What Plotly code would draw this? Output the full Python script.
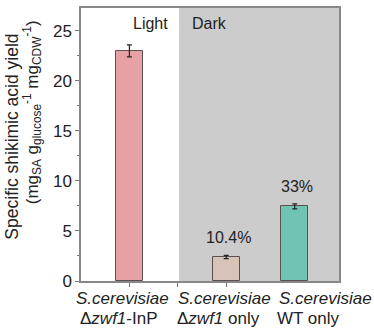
import plotly.graph_objects as go

# data
strains = ['S.cerevisiae Δzwf1-InP', 'S.cerevisiae Δzwf1 only', 'S.cerevisiae WT only']
yields = [23.0, 2.4, 7.45]
errors = [0.6, 0.17, 0.25]
percent_labels = ['', '10.4%', '33%']
bar_colors = ['#e6a1a4', '#d7c3b7', '#6fc4b2']
y_ticks = [0, 5, 10, 15, 20, 25]

# x layout (units: one tick spacing)
bar_x = [1.0, 3.0, 4.415]
x_max = 5.33
y_max = 27.28
FONT = 'Liberation Sans, Arial, sans-serif'
TXT = '#222222'

fig = go.Figure()
fig.add_trace(go.Bar(
    x=bar_x, y=yields, width=0.56,
    marker=dict(color=bar_colors, line=dict(color='#5a5050', width=1)),
    error_y=dict(type='data', array=errors, color='#222', thickness=1.2, width=2.5),
    showlegend=False,
))

# dark region
fig.add_shape(type='rect', xref='x', yref='paper', x0=2.025, x1=x_max, y0=0, y1=1,
              fillcolor='#cdcccd', line_width=0, layer='below')

annotations = []
for txt, x in [('Light', 1.436), ('Dark', 2.66)]:
    annotations.append(dict(x=x, y=0.943, xref='x', yref='paper', text=txt,
                            xanchor='center', yanchor='middle',
                            showarrow=False, font=dict(size=16, color=TXT)))

for x, v, e, t in zip(bar_x, yields, errors, percent_labels):
    if t:
        annotations.append(dict(x=x + 0.05, y=v + e, xref='x', yref='y', text=t,
                                showarrow=False, xanchor='center', yanchor='bottom',
                                yshift=7, font=dict(size=16, color=TXT)))

# category labels, two lines each
line1 = ['<i>S.cerevisiae</i>'] * 3
line2 = ['Δ<i>zwf1</i>-InP', 'Δ<i>zwf1</i> only', 'WT only']
line1_x = [0.847, 2.965, 5.05]
line2_x = [0.795, 2.85, 4.70]
for a, b, xa, xb in zip(line1, line2, line1_x, line2_x):
    annotations.append(dict(x=xa, y=-0.065, xref='x', yref='paper', text=a,
                            showarrow=False, xanchor='center', yanchor='middle',
                            font=dict(size=17, color=TXT)))
    annotations.append(dict(x=xb, y=-0.138, xref='x', yref='paper', text=b,
                            showarrow=False, xanchor='center', yanchor='middle',
                            font=dict(size=17, color=TXT)))

# y axis title
annotations.append(dict(x=-0.2655, y=0.527, xref='paper', yref='paper',
                        text='Specific shikimic acid yield', textangle=-90,
                        xanchor='center', yanchor='middle',
                        showarrow=False, font=dict(size=17.5, color=TXT)))
annotations.append(dict(x=-0.19, y=0.618, xref='paper', yref='paper',
                        text='(mg<sub>SA</sub> g<sub>glucose</sub><sup>-1</sup> '
                             'mg<sub>CDW</sub><sup>-1</sup>)',
                        textangle=-90, xanchor='center', yanchor='middle',
                        showarrow=False, font=dict(size=17, color=TXT)))

fig.update_layout(
    width=374, height=332,
    margin=dict(l=81, r=35, t=6, b=51),
    plot_bgcolor='white', paper_bgcolor='white',
    font=dict(family=FONT, color=TXT),
    annotations=annotations,
    bargap=0,
)
fig.update_xaxes(range=[0, x_max], tickvals=[1, 2, 3], ticktext=['', '', ''],
                 ticks='outside', ticklen=4, tickcolor='#777',
                 showline=True, linecolor='#888', linewidth=1.5, mirror=True,
                 showgrid=False, zeroline=False)
fig.update_yaxes(range=[0, y_max], tickvals=y_ticks,
                 ticks='outside', ticklen=4, tickcolor='#777',
                 minor=dict(dtick=2.5, ticks='outside', ticklen=2, tickcolor='#777'),
                 tickfont=dict(size=17, color=TXT),
                 showline=True, linecolor='#888', linewidth=1.5, mirror=True,
                 showgrid=False, zeroline=False)

fig.write_html('out.html', config={'displayModeBar': False},
               post_script="document.body.style.margin='0';")
